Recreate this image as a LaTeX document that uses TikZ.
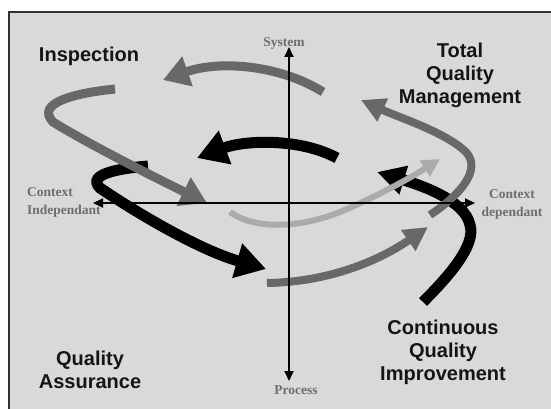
\documentclass[tikz,border=0pt]{standalone}
\usepackage{fontspec}
\setmainfont{Liberation Serif}
\setsansfont{Liberation Sans}
\usetikzlibrary{arrows.meta}
\definecolor{bgc}{HTML}{D9D9D9}
\definecolor{dkg}{HTML}{686868}
\definecolor{ltg}{HTML}{ABABAB}
\definecolor{axlbl}{HTML}{6E6E6E}
\definecolor{ttl}{HTML}{151515}
\begin{document}
\begin{tikzpicture}[x=1pt,y=-1pt,
  garrow/.style={draw=dkg, line width=9pt, -{Triangle[length=26pt,width=30pt]}},
  garrowsm/.style={draw=dkg, line width=8pt, -{Triangle[length=24pt,width=24pt]}},
  barrow/.style={draw=black, line width=11pt, -{Triangle[length=30pt,width=34pt]}},
  barrowsm/.style={draw=black, line width=11pt, -{Triangle[length=28pt,width=28pt]}},
  larrow/.style={draw=ltg, line width=6pt, -{Triangle[length=18pt,width=18pt]}},
  axisline/.style={draw=black, line width=1.8pt, {Triangle[length=10pt,width=9pt]}-{Triangle[length=10pt,width=9pt]}},
  axlabel/.style={font=\fontsize{13.5}{18}\selectfont\bfseries, text=axlbl, inner sep=0pt},
  titlelbl/.style={font=\sffamily\bfseries\fontsize{20}{23}\selectfont, text=ttl, align=center, inner sep=0pt}]
\useasboundingbox (0,0) rectangle (551,409);
\fill[white] (0,0) rectangle (551,409);
\draw[fill=bgc, draw=black!80, line width=1.5pt] (9,12) rectangle (570,430);

% coordinates
\coordinate (aS) at (323,92);  \coordinate (aE) at (163,80);
\coordinate (bS) at (115,89);  \coordinate (bE) at (207,203);
\coordinate (cS) at (337,158); \coordinate (cE) at (197,158);
\coordinate (dS) at (148,166); \coordinate (dE) at (266,269);
\coordinate (eS) at (267,283); \coordinate (eE) at (428,227);
\coordinate (fS) at (230,212); \coordinate (fE) at (440,159);
\coordinate (gS) at (430,215); \coordinate (gE) at (361,100);
\coordinate (hS) at (423,302); \coordinate (hE) at (377,172);

% black arrows
\draw[barrow] (dS) .. controls (125,168) and (85,173) .. (100,188)
                   .. controls (140,215) and (200,250) .. (dE);
\draw[barrow] (cS) .. controls (300,138) and (245,140) .. (cE);
\draw[barrowsm] (hS) .. controls (450,275) and (476,245) .. (470,225)
                     .. controls (465,200) and (420,185) .. (hE);

% dark gray arrows
\draw[garrow] (aS) .. controls (280,65) and (220,60) .. (aE);
\draw[garrow] (bS) .. controls (75,93) and (35,103) .. (53,122)
                   .. controls (90,145) and (160,180) .. (bE);
\draw[garrowsm] (eS) .. controls (330,282) and (380,260) .. (eE);
\draw[garrowsm] (gS) .. controls (460,195) and (482,170) .. (466,152)
                     .. controls (445,132) and (400,118) .. (gE);

% light gray arrow
\draw[larrow] (fS) .. controls (255,230) and (300,228) .. (340,212)
                   .. controls (380,195) and (410,178) .. (fE);

% axes
\coordinate (top) at (289,47);
\coordinate (bot) at (289,381);
\coordinate (lft) at (93,203);
\coordinate (rgt) at (475,203);
\draw[axisline] (bot) -- (top);
\draw[axisline] (lft) -- (rgt);

% axis labels
\node[axlabel] (sys) at (284,43) {System};
\node[axlabel] (proc) at (296,390) {Process};
\node[axlabel, anchor=west, align=left] (ci) at (27,202) {Context\\Independant};
\node[axlabel, align=center] (cd) at (512,204) {Context\\dependant};

% titles
\node[titlelbl] (insp) at (89,56) {Inspection};
\node[titlelbl] (tqm) at (460,75) {Total\\Quality\\Management};
\node[titlelbl] (qa) at (90,370) {Quality\\Assurance};
\node[titlelbl] (cqi) at (443,352) {Continuous\\Quality\\Improvement};
\end{tikzpicture}
\end{document}
